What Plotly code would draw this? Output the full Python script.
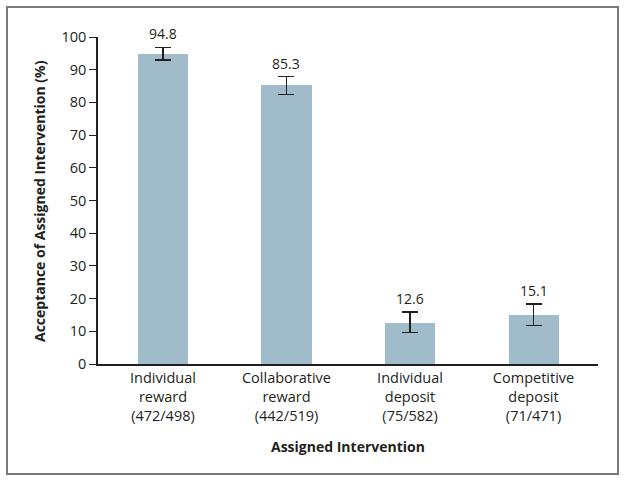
import plotly.graph_objects as go

categories = ["Individual<br>reward<br>(472/498)", "Collaborative<br>reward<br>(442/519)",
              "Individual<br>deposit<br>(75/582)", "Competitive<br>deposit<br>(71/471)"]
values = [94.8, 85.3, 12.6, 15.1]
ci_upper = [96.8, 87.9, 15.9, 18.3]
ci_lower = [92.9, 82.4, 9.7, 11.8]
value_labels = ["94.8", "85.3", "12.6", "15.1"]
y_ticks = [0, 10, 20, 30, 40, 50, 60, 70, 80, 90, 100]

err_plus = [u - v for u, v in zip(ci_upper, values)]
err_minus = [v - l for v, l in zip(values, ci_lower)]

FONT = "Open Sans"
TXT = "#231f20"

fig = go.Figure()
fig.add_trace(go.Bar(
    x=list(range(len(categories))), y=values, width=0.405,
    marker=dict(color="#a0bccb", line=dict(width=0)),
    error_y=dict(type="data", symmetric=False, array=err_plus, arrayminus=err_minus,
                 color=TXT, thickness=1.5, width=8),
    hoverinfo="skip",
))

for i, (u, lab) in enumerate(zip(ci_upper, value_labels)):
    fig.add_annotation(x=i, y=u, text=lab, showarrow=False, yanchor="middle", yshift=13.5,
                       font=dict(family=FONT, size=14, color=TXT))

L, R, T, B = 98, 28, 37, 118
W, H = 626, 482
pw, ph = W - L - R, H - T - B

def px(xp):
    return (xp - L) / pw

def py(yp):
    return (H - B - yp) / ph

fig.add_shape(type="rect", xref="paper", yref="paper",
              x0=px(7), x1=px(618), y0=py(474), y1=py(7),
              line=dict(color="#7a7a7a", width=2), layer="below")

fig.add_annotation(xref="paper", yref="paper", x=px(348), y=py(447),
                   xanchor="center", yanchor="middle",
                   text="<b>Assigned Intervention</b>", showarrow=False,
                   font=dict(family=FONT, size=14, color=TXT))
fig.add_annotation(xref="paper", yref="paper", x=px(40), y=py(201),
                   xanchor="center", yanchor="middle",
                   text="<b>Acceptance of Assigned Intervention (%)</b>", showarrow=False,
                   textangle=-90, font=dict(family=FONT, size=14, color=TXT))

fig.update_layout(
    width=W, height=H, margin=dict(l=L, r=R, t=T, b=B),
    paper_bgcolor="white", plot_bgcolor="white", showlegend=False,
    font=dict(family=FONT, size=14, color=TXT),
    bargap=0,
)
fig.update_xaxes(range=[-0.526, 3.522], tickmode="array", tickvals=list(range(len(categories))),
                 ticktext=categories, showline=True, linecolor=TXT, linewidth=1.5,
                 ticks="", showgrid=False, zeroline=False,
                 tickfont=dict(family=FONT, size=14.5, color=TXT))
fig.update_yaxes(range=[0, 100], tickmode="array", tickvals=y_ticks,
                 showline=True, linecolor=TXT, linewidth=1.5, ticks="outside",
                 ticklen=7, tickwidth=1.2, tickcolor=TXT, showgrid=False, zeroline=False,
                 tickfont=dict(family=FONT, size=14.5, color=TXT))

fig.write_html("out.html", config={"displayModeBar": False},
               post_script="document.body.style.margin='0px';document.body.style.overflow='hidden';")
